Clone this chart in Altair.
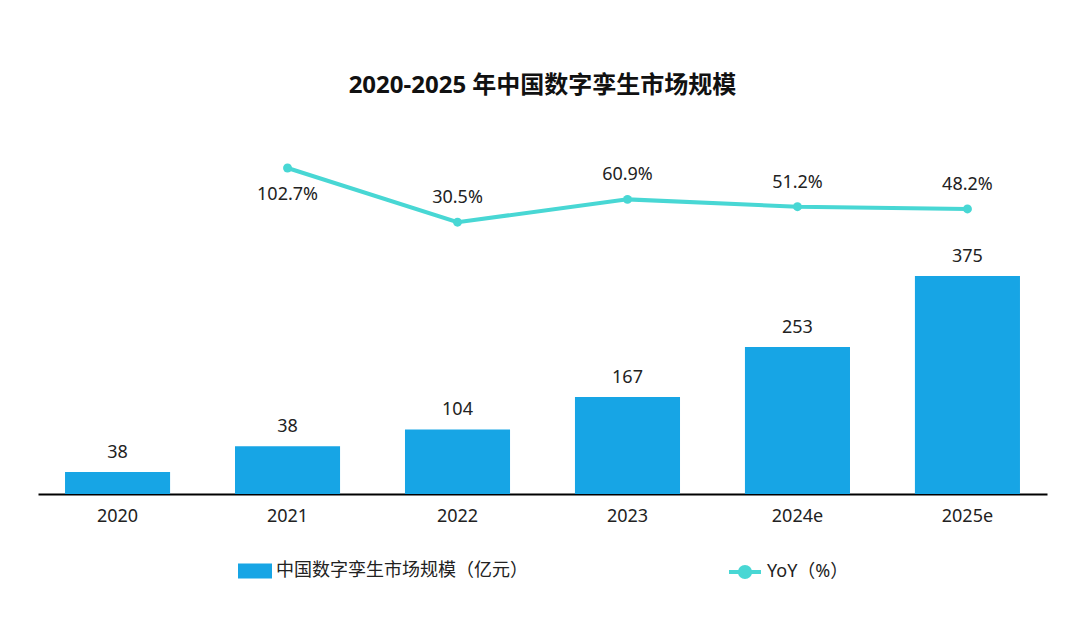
import altair as alt
import pandas as pd

years = ["2020", "2021", "2022", "2023", "2024e", "2025e"]
bar_values = [38, 82, 111, 167, 253, 375]          # bar heights as drawn
bar_labels = ["38", "38", "104", "167", "253", "375"]  # labels as printed
yoy = [None, 102.7, 30.5, 60.9, 51.2, 48.2]
yoy_labels = ["", "102.7%", "30.5%", "60.9%", "51.2%", "48.2%"]

BAR_NAME = "中国数字孪生市场规模（亿元）"
LINE_NAME = "YoY（%）"
BAR_COLOR = "#17A5E5"
LINE_COLOR = "#48D7D4"
FONT = "Noto Sans, Noto Sans CJK SC, sans-serif"
FS = 18

df = pd.DataFrame({
    "year": years,
    "value": bar_values,
    "label": bar_labels,
    "yoy": yoy,
    "yoy_label": yoy_labels,
})

x = alt.X("year:N", sort=years, title=None,
          scale=alt.Scale(paddingInner=0.382, paddingOuter=0.159),
          axis=alt.Axis(labelAngle=0, ticks=False, domainColor="#000000",
                        domainWidth=2, labelFontSize=FS, labelColor="#222222",
                        labelPadding=13, labelFont=FONT))

base = alt.Chart(df)
by = alt.Y("value:Q", scale=alt.Scale(domain=[0, 626]), axis=None)

bars = base.mark_bar(color=BAR_COLOR).encode(
    x=x,
    y=by,
    color=alt.Color("series:N", scale=alt.Scale(domain=[BAR_NAME], range=[BAR_COLOR]),
                    legend=alt.Legend(title=None, orient="none", legendX=200, legendY=424,
                                      symbolType="M-1,-0.44L1,-0.44L1,0.44L-1,0.44Z",
                                      symbolSize=1156, symbolStrokeWidth=0,
                                      labelFontSize=FS, labelFont=FONT, labelColor="#222222",
                                      labelLimit=400, labelOffset=4)),
).transform_calculate(series=f"'{BAR_NAME}'")

bar_text = base.mark_text(fontSize=FS, font=FONT, color="#222222", dy=-19, baseline="middle").encode(
    x=alt.X("year:N", sort=years),
    y=by,
    text="label:N",
)

line_base = base.transform_filter("isValid(datum.yoy)")
ly = alt.Y("yoy:Q", scale=alt.Scale(domain=[-331.9, 153.4]), axis=None)

line = line_base.mark_line(strokeWidth=4).encode(
    x=alt.X("year:N", sort=years),
    y=ly,
    stroke=alt.Stroke("series2:N", scale=alt.Scale(domain=[LINE_NAME], range=[LINE_COLOR]),
                      legend=alt.Legend(title=None, orient="none", legendX=689, legendY=424,
                                        symbolType="M-1,0L1,0M0.32,0A0.32,0.32,0,1,1,-0.32,0A0.32,0.32,0,1,1,0.32,0",
                                        symbolSize=1024, symbolStrokeWidth=4,
                                        symbolFillColor=LINE_COLOR,
                                        labelFontSize=FS, labelFont=FONT, labelColor="#222222",
                                        labelLimit=200, labelOffset=4)),
).transform_calculate(series2=f"'{LINE_NAME}'")

points = line_base.mark_circle(size=80, color=LINE_COLOR, opacity=1).encode(
    x=alt.X("year:N", sort=years),
    y=ly,
)

text_below = line_base.transform_filter("datum.year == '2021'").mark_text(
    fontSize=FS, font=FONT, color="#222222", dy=27, baseline="middle").encode(
    x=alt.X("year:N", sort=years), y=ly, text="yoy_label:N")

text_above = line_base.transform_filter("datum.year != '2021'").mark_text(
    fontSize=FS, font=FONT, color="#222222", dy=-24, baseline="middle").encode(
    x=alt.X("year:N", sort=years), y=ly, text="yoy_label:N")

chart = alt.layer(
    alt.layer(bars, bar_text),
    alt.layer(line, points, text_below, text_above),
).resolve_scale(y="independent").properties(
    width=1009, height=364,
    background="white",
    autosize=alt.AutoSizeParams(type="none"),
    padding={"left": 30, "top": 122, "right": 25, "bottom": 130},
    title=alt.TitleParams("2020-2025 年中国数字孪生市场规模", fontSize=24, font=FONT,
                          fontWeight="bold", color="#111111", anchor="middle", offset=32),
).configure_view(strokeWidth=0, stroke="transparent")

chart.save("out.html", embed_options={"renderer": "svg", "actions": False})
